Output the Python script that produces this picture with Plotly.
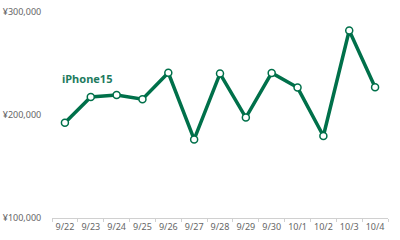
import plotly.graph_objects as go

dates = ["9/22", "9/23", "9/24", "9/25", "9/26", "9/27", "9/28",
         "9/29", "9/30", "10/1", "10/2", "10/3", "10/4"]
prices = [192500, 217500, 219500, 215300, 241000, 176300, 240200,
          197500, 240800, 226600, 179600, 282000, 227000]
series_name = "iPhone15"
y_ticks = [100000, 200000, 300000]
y_tick_labels = ["\u00a5100,000", "\u00a5200,000", "\u00a5300,000"]

green = "#00704A"
fnt = "Noto Sans"

fig = go.Figure()
fig.add_trace(go.Scatter(
    x=dates, y=prices, mode="lines+markers", name=series_name,
    line=dict(color=green, width=3.5),
    marker=dict(size=7, color="white", line=dict(color=green, width=1.5)),
    showlegend=False,
))

fig.add_annotation(
    x=0.024, xref="paper", y=235000, yref="y",
    text="<b>" + series_name + "</b>", showarrow=False,
    xanchor="left", yanchor="middle",
    font=dict(family=fnt, size=11, color="#1E7B5E"),
)

fig.update_layout(
    width=400, height=240,
    margin=dict(l=52, r=12, t=12, b=22, autoexpand=False),
    paper_bgcolor="white", plot_bgcolor="white",
    font=dict(family=fnt, size=9, color="#666666"),
)
fig.update_xaxes(
    type="category", range=[-0.5, len(dates) - 0.5],
    showgrid=False, zeroline=False, automargin=False,
    showline=True, linecolor="#D0D0D0", linewidth=1, tickangle=0,
    ticks="outside", tickson="boundaries", ticklen=3, tickcolor="#D0D0D0",
    tickfont=dict(family=fnt, size=9, color="#666666"),
)
fig.update_yaxes(
    range=[100000, 300000], tickvals=y_ticks, ticktext=y_tick_labels,
    showgrid=False, zeroline=False, automargin=False,
    showline=False, ticks="outside", ticklen=8, tickcolor="rgba(0,0,0,0)",
    tickfont=dict(family=fnt, size=9, color="#666666"),
)

fig.write_html("out.html")
